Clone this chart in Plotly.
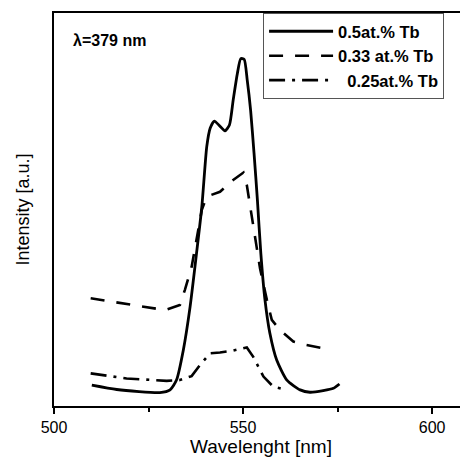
import plotly.graph_objects as go

# emission spectra (intensity in arbitrary units)
wl_05 = [510, 516.6, 528, 530.7, 532.4, 534.2, 536, 537.7, 539.1, 540.4, 541.3, 542.4,
         543.9, 545.2, 546.4, 547.4, 548.5, 549.4, 550.3, 551.1, 552, 552.9, 553.8,
         554.7, 555.8, 557.1, 558.9, 561.6, 565.1, 567.7, 571.2, 573.9, 575.5]
int_05 = [5.3, 4.2, 3.4, 4.1, 6.6, 14.2, 25.3, 38.9, 50.7, 66, 70.7, 72.5,
          71.2, 70, 71.5, 77.9, 84.6, 88.4, 88.2, 83, 75.3, 64.4, 52.4,
          38.9, 27, 18.5, 11.7, 6.6, 4.1, 3.5, 3.9, 4.5, 5.6]

wl_033 = [509.7, 519.5, 529.4, 533.3, 534.6, 536.4, 537.7, 539.1, 540.4, 543.9, 547.4,
          550.1, 551, 552.7, 554.5, 556.3, 557.6, 559.8, 563.3, 566.8, 571.2]
int_033 = [27.4, 26, 24.4, 25.7, 29.5, 35.4, 42.2, 49.9, 53.3, 54.5, 57.5,
           59.4, 56.2, 45.6, 35, 27, 21.9, 19.3, 16.4, 15.5, 14.7]

wl_025 = [509.7, 519.2, 529.8, 533.3, 536.4, 538.6, 541.3, 543.9, 547.4, 551, 552.7,
          555.4, 558, 560.6, 561.5]
int_025 = [8.3, 7, 6.4, 6.6, 7.6, 10.4, 13.4, 13.6, 14.1, 14.9, 12.5,
           7.5, 4.9, 4.2, 4.1]

fig = go.Figure()
fig.add_trace(go.Scatter(x=wl_05, y=int_05, mode='lines', name='<b>0.5at.% Tb</b>',
                         line=dict(color='black', width=2.8, shape='spline', smoothing=0.6)))
fig.add_trace(go.Scatter(x=wl_033, y=int_033, mode='lines', name='<b>0.33 at.% Tb</b>',
                         line=dict(color='black', width=2.6, dash='14px,12px')))
fig.add_trace(go.Scatter(x=wl_025, y=int_025, mode='lines', name='<b>  0.25at.% Tb</b>',
                         line=dict(color='black', width=2.6, dash='16px,7px,3px,7px')))

fig.add_annotation(x=0.04, y=0.93, xref='paper', yref='paper', xanchor='left', yanchor='middle',
                   text='<b>λ=379 nm</b>', showarrow=False, font=dict(size=16, color='black'))

# page body has an 8px margin, so the figure is drawn 8px smaller and margins shrunk
fig.update_layout(
    width=460, height=451,
    margin=dict(l=46, r=0, t=5, b=53),
    plot_bgcolor='white', paper_bgcolor='white',
    font=dict(family='Liberation Sans, Arial', color='black'),
    showlegend=True,
    legend=dict(x=0.505, y=1, xanchor='left', yanchor='top', bordercolor='#555',
                borderwidth=1, bgcolor='white', font=dict(size=16.5),
                tracegroupgap=0, itemwidth=64),
    xaxis=dict(range=[500, 609.5], showline=True, linecolor='black', linewidth=1.5,
               mirror=True, showgrid=False, zeroline=False, ticks='outside', ticklen=6,
               tickwidth=1.5, tickcolor='black', tickvals=[500, 550, 600],
               tickfont=dict(size=16), automargin=False,
               minor=dict(tickvals=[525, 575], ticks='outside', ticklen=4, tickcolor='black', tickwidth=1.5),
               title=dict(text='Wavelenght [nm]', font=dict(size=19), standoff=1)),
    yaxis=dict(range=[0, 100], showline=True, linecolor='black', linewidth=1.5,
               showgrid=False, zeroline=False, showticklabels=False, ticks='',
               automargin=False,
               title=dict(text='Intensity [a.u.]', font=dict(size=18), standoff=18)),
)

fig.write_html('out.html')
